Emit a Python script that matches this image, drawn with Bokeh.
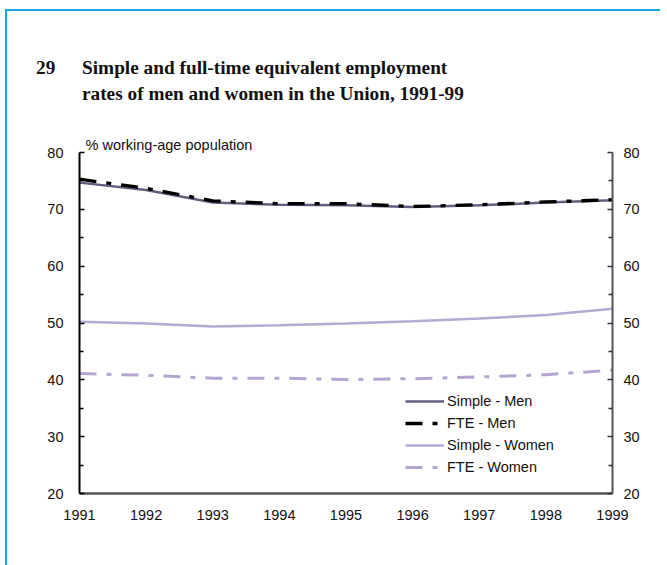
from bokeh.plotting import figure
from bokeh.models import (LinearAxis, FixedTicker, Legend, LegendItem,
                          ColumnDataSource, Div, Title)
from bokeh.layouts import column
from bokeh.embed import file_html
from bokeh.resources import INLINE

years = [1991, 1992, 1993, 1994, 1995, 1996, 1997, 1998, 1999]
simple_men = [74.7, 73.4, 71.2, 70.8, 70.7, 70.4, 70.7, 71.2, 71.6]
fte_men = [75.3, 73.7, 71.5, 71.0, 71.0, 70.5, 70.8, 71.3, 71.7]
simple_women = [50.2, 49.9, 49.4, 49.6, 49.9, 50.3, 50.8, 51.4, 52.5]
fte_women = [41.1, 40.8, 40.3, 40.3, 40.05, 40.2, 40.5, 40.9, 41.7]
y_ticks = [20, 30, 40, 50, 60, 70, 80]
y_minor = [25, 35, 45, 55, 65, 75]

title_num = "29"
title_lines = ["Simple and full-time equivalent employment",
               "rates of men and women in the Union, 1991-99"]
y_label = "% working-age population"

FONT = "Liberation Sans"
FS = "14.5px"

# headline as real HTML text
DW, DH = 653, 100
span = ("position:absolute;font-family:'Liberation Serif';font-weight:bold;"
        "font-size:19.3px;line-height:19px;color:#111;white-space:nowrap;")
head_html = (
    f'<div style="position:relative;width:{DW}px;height:{DH}px;">'
    f'<span style="{span}left:29px;top:47px;">{title_num}</span>'
    f'<span style="{span}left:75px;top:47px;">{title_lines[0]}</span>'
    f'<span style="{span}left:75px;top:72.5px;">{title_lines[1]}</span>'
    '</div>'
)
head = Div(text=head_html, width=DW, height=DH, margin=0)

WF, HF = 653, 454
p = figure(width=WF, height=HF, x_range=(1991, 1999), y_range=(20, 80),
           output_backend="svg", toolbar_location=None,
           min_border_left=72, min_border_right=WF - 605,
           min_border_top=41, min_border_bottom=HF - 382)
p.outline_line_color = None
p.xgrid.visible = False
p.ygrid.visible = False
p.background_fill_color = "white"
p.border_fill_color = "white"

# bottom axis
xa = p.xaxis[0]
xa.ticker = FixedTicker(ticks=years)
xa.major_tick_in = 0
xa.major_tick_out = 0
xa.minor_tick_in = 0
xa.minor_tick_out = 0
xa.axis_line_color = "#555555"
xa.axis_line_width = 2.5
xa.major_label_standoff = 16
xa.major_label_text_font = FONT
xa.major_label_text_font_size = FS
xa.major_label_text_color = "#111111"

# left axis
ya = p.yaxis[0]
ya.ticker = FixedTicker(ticks=y_ticks, minor_ticks=y_minor)
ya.major_tick_in = 5
ya.major_tick_out = 0
ya.minor_tick_in = 4
ya.minor_tick_out = 0
ya.major_tick_line_width = 1.5
ya.minor_tick_line_width = 1.5
ya.axis_line_color = "black"
ya.axis_line_width = 2
ya.major_label_standoff = 16
ya.major_label_text_font = FONT
ya.major_label_text_font_size = FS
ya.major_label_text_color = "#111111"

# right axis
ra = LinearAxis(ticker=FixedTicker(ticks=y_ticks, minor_ticks=y_minor))
ra.major_tick_in = 5
ra.major_tick_out = 0
ra.minor_tick_in = 4
ra.minor_tick_out = 0
ra.major_tick_line_width = 1.5
ra.minor_tick_line_width = 1.5
ra.major_tick_line_color = "#333333"
ra.minor_tick_line_color = "#333333"
ra.axis_line_color = "#555555"
ra.axis_line_width = 2
ra.major_label_standoff = 11
ra.major_label_text_font = FONT
ra.major_label_text_font_size = FS
ra.major_label_text_color = "#111111"
p.add_layout(ra, "right")

# y label above the frame
p.add_layout(Title(text=y_label, align="left", offset=6, standoff=0,
                   text_font=FONT, text_font_size=FS, text_font_style="normal",
                   text_color="#111111"), "above")

src = ColumnDataSource(dict(x=years, sm=simple_men, fm=fte_men,
                            sw=simple_women, fw=fte_women))

r_fw = p.line("x", "fw", source=src, line_color="#B4A6D0", line_width=3,
              line_dash="17 10 5 10")
r_sw = p.line("x", "sw", source=src, line_color="#B6A9D3", line_width=2.5)
r_sm = p.line("x", "sm", source=src, line_color="#675C7E", line_width=2.5)
r_fm = p.line("x", "fm", source=src, line_color="black", line_width=3.3,
              line_dash="17 10 5 10")

legend = Legend(items=[LegendItem(label="Simple - Men", renderers=[r_sm]),
                       LegendItem(label="FTE - Men", renderers=[r_fm]),
                       LegendItem(label="Simple - Women", renderers=[r_sw]),
                       LegendItem(label="FTE - Women", renderers=[r_fw])],
                location=(326, 16), orientation="vertical")
legend.background_fill_alpha = 0
legend.border_line_color = None
legend.padding = 0
legend.margin = 0
legend.spacing = 2
legend.glyph_width = 39
legend.glyph_height = 20
legend.label_height = 20
legend.label_standoff = 3
legend.label_text_font = FONT
legend.label_text_font_size = FS
legend.label_text_color = "#111111"
p.add_layout(legend, "center")

layout = column(head, p, spacing=0,
                styles={"border-top": "2px solid #1AA7E0",
                        "border-left": "2px solid #1AA7E0",
                        "margin-left": "5px", "margin-top": "9px"})

open("out.html", "w").write(file_html(layout, INLINE))
